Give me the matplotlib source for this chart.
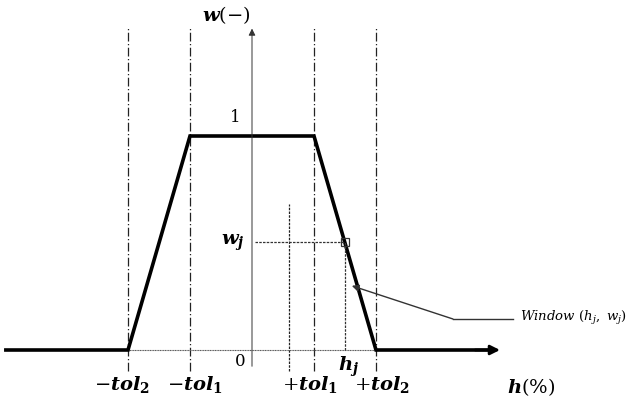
import matplotlib
matplotlib.use("Agg")
import matplotlib.pyplot as plt

plt.rcParams['mathtext.fontset'] = 'dejavuserif'
plt.rcParams['font.family'] = ['DejaVu Serif']

# trapezoid weight function w(h)
tol1 = 1.0
tol2 = 2.0
h_curve = [-3.97, -tol2, -tol1, tol1, tol2, 3.85]
w_curve = [0, 0, 1, 1, 0, 0]

# window point
h_j = 1.495
w_j = 0.505

# guide lines
guide_x = [-tol2, -tol1, tol1, tol2]
extra_x = 0.6

tick_labels = [r'$-\mathbfit{tol}_{\mathbf{2}}$', r'$-\mathbfit{tol}_{\mathbf{1}}$',
               r'$+\mathbfit{tol}_{\mathbf{1}}$', r'$+\mathbfit{tol}_{\mathbf{2}}$']
tick_pos_x = [-2.1, -0.92, 0.93, 2.1]

fig = plt.figure(figsize=(6.3, 4.06), dpi=100)
ax = fig.add_axes([0, 0, 1, 1])
ax.set_xlim(-252 / 62, 378 / 62)
ax.set_ylim(-55 / 214, 351 / 214)
ax.axis('off')

# dash-dot verticals
for x in guide_x:
    ax.plot([x, x], [-0.098, 1.51], color='#222222', lw=0.9, ls=(0, (7, 2, 1, 2)))
ax.plot([extra_x, extra_x], [-0.098, 0.68], color='#222222', lw=0.9, ls=(0, (2, 1)))

# y axis
ax.annotate('', xy=(0, 1.515), xytext=(0, -0.089),
            arrowprops=dict(arrowstyle='-|>', lw=0.7, color='#333333',
                            mutation_scale=10))
# thin baseline
ax.plot([-3.97, 3.9], [0, 0], color='#555555', lw=0.8, ls=(0, (1, 0.5)))

# weight curve
ax.plot(h_curve, w_curve, color='black', lw=2.6, solid_joinstyle='miter')
ax.annotate('', xy=(4.0, 0), xytext=(3.6, 0),
            arrowprops=dict(arrowstyle='-|>', lw=2.0, color='black',
                            mutation_scale=14, shrinkA=0, shrinkB=0))

# window marker and projections
ax.plot([0.05, h_j], [w_j, w_j], color='#333333', lw=0.9, ls=(0, (2, 1)))
ax.plot([h_j, h_j], [0, w_j], color='#333333', lw=0.9, ls=(0, (2, 1)))
ax.plot([h_j], [w_j], marker='s', ms=6, mfc='none', mec='#333333', mew=0.9)

# annotation arrow
ax.plot([3.24, 4.21], [0.145, 0.145], color='#333333', lw=1.0)
ax.annotate('', xy=(1.61, 0.30), xytext=(3.24, 0.145),
            arrowprops=dict(arrowstyle='-|>', lw=1.0, color='#333333',
                            mutation_scale=10, shrinkA=0, shrinkB=0))
ax.text(4.32, 0.155, r'Window $(h_j,\ w_j)$', fontsize=9.5, style='italic',
        ha='left', va='center')

# labels
for x, lab in zip(tick_pos_x, tick_labels):
    ax.text(x, -0.158, lab, fontsize=14, ha='center', va='center')
ax.text(-0.19, -0.05, '0', fontsize=12, ha='center', va='center')
ax.text(-0.27, 1.089, '1', fontsize=12, ha='center', va='center')
ax.text(1.55, -0.075, r'$\mathbfit{h}_{\mathbfit{j}}$', fontsize=14, ha='center', va='center')
ax.text(-0.31, w_j, r'$\mathbfit{w}_{\mathbfit{j}}$', fontsize=14, ha='center', va='center')
ax.text(-0.42, 1.57, r'$\mathbfit{w}(-)$', fontsize=14, ha='center', va='center')
ax.text(4.5, -0.17, r'$\mathbfit{h}(\%)$', fontsize=14, ha='center', va='center')

fig.savefig('out.png', dpi=100)
